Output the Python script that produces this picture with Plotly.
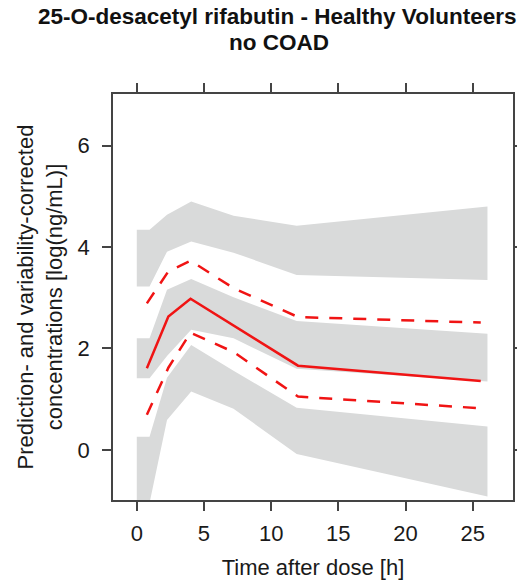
import plotly.graph_objects as go

# ---- data ----
band_t = [0, 0.95, 2.25, 4.05, 7.2, 11.9, 26.1]
upper_hi = [4.34, 4.34, 4.64, 4.90, 4.62, 4.42, 4.80]
upper_lo = [3.22, 3.22, 3.91, 4.11, 3.89, 3.45, 3.35]
mid_hi = [2.20, 2.20, 3.16, 3.37, 3.01, 2.54, 2.29]
mid_lo = [1.41, 1.41, 1.85, 2.37, 2.20, 1.60, 1.35]
low_hi = [0.26, 0.26, 1.42, 2.07, 1.56, 0.83, 0.46]
low_lo = [-1.3, -1.05, 0.59, 1.15, 0.81, -0.08, -0.92]

line_t = [0.75, 2.35, 4.0, 7.2, 12.0, 25.6]
obs_median = [1.61, 2.63, 2.98, 2.45, 1.66, 1.36]
obs_p95 = [2.89, 3.52, 3.73, 3.19, 2.62, 2.51]
obs_p05 = [0.69, 1.62, 2.31, 1.93, 1.05, 0.82]

x_ticks = [0, 5, 10, 15, 20, 25]
y_ticks = [0, 2, 4, 6]

title_line1 = "25-O-desacetyl rifabutin - Healthy Volunteers"
title_line2 = "no COAD"
x_title = "Time after dose [h]"
y_title = "Prediction- and variability-corrected<br>concentrations [log(ng/mL)]"

GRAY = "#d9dada"
RED = "#f01414"
FONT = "Liberation Sans, Arial, sans-serif"

fig = go.Figure()
for hi, lo in [(upper_hi, upper_lo), (mid_hi, mid_lo), (low_hi, low_lo)]:
    fig.add_trace(go.Scatter(
        x=band_t + band_t[::-1], y=hi + lo[::-1],
        fill="toself", fillcolor=GRAY, mode="lines",
        line=dict(width=0, color=GRAY), hoverinfo="skip", showlegend=False))

fig.add_trace(go.Scatter(x=line_t, y=obs_median, mode="lines",
                         line=dict(color=RED, width=2.5), showlegend=False))
for vals in (obs_p95, obs_p05):
    fig.add_trace(go.Scatter(x=line_t, y=vals, mode="lines",
                             line=dict(color=RED, width=2.5, dash="13px,11px"),
                             showlegend=False))

axis_common = dict(
    showgrid=False, zeroline=False, showline=True, linecolor="#444444",
    linewidth=1.5, mirror="allticks", ticks="outside", ticklen=9,
    tickcolor="#444444", tickwidth=1.5,
    tickfont=dict(family=FONT, size=22, color="#1a1a1a"),
)

fig.update_xaxes(range=[-1.77, 28.0], tickvals=x_ticks,
                 ticktext=[str(v) for v in x_ticks], ticklabelstandoff=4,
                 title=dict(text=x_title, font=dict(family=FONT, size=22, color="#1a1a1a"),
                            standoff=14),
                 **axis_common)
fig.update_yaxes(range=[-0.99, 7.02], tickvals=y_ticks,
                 ticktext=[str(v) for v in y_ticks], ticklabelstandoff=8,
                 title=dict(text=y_title, font=dict(family=FONT, size=22, color="#1a1a1a"),
                            standoff=9),
                 **axis_common)

fig.add_annotation(text="<b>" + title_line1 + "</b>", xref="paper", yref="paper",
                   x=(277 - 113) / 400, y=(500 - 17) / 406, xanchor="center", yanchor="middle",
                   showarrow=False, font=dict(family=FONT, size=22.5, color="#111111"))
fig.add_annotation(text="<b>" + title_line2 + "</b>", xref="paper", yref="paper",
                   x=(279 - 113) / 400, y=(500 - 43) / 406, xanchor="center", yanchor="middle",
                   showarrow=False, font=dict(family=FONT, size=22.5, color="#111111"))

fig.update_layout(
    width=517, height=581,
    margin=dict(l=113, r=4, t=94, b=81, autoexpand=False),
    plot_bgcolor="white", paper_bgcolor="white",
    showlegend=False,
)

fig.write_html("out.html")
